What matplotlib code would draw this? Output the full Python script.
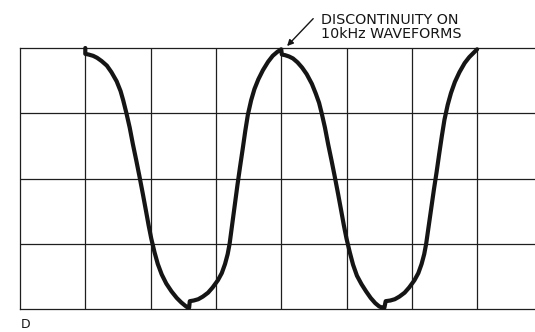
import matplotlib
matplotlib.use("Agg")
import matplotlib.pyplot as plt

# Trace read along the screen graticule (x: horizontal divisions, y: vertical divisions)
# First fall: peak at 1 div down to the first trough
fall1_x = [1.00, 1.00, 1.05, 1.12, 1.18, 1.25, 1.33, 1.40, 1.48, 1.54, 1.58, 1.63,
           1.68, 1.73, 1.78, 1.83, 1.88, 1.93, 1.97, 2.01, 2.06, 2.11, 2.17, 2.24,
           2.32, 2.40, 2.47, 2.53, 2.57, 2.59]
fall1_y = [4.00, 3.91, 3.90, 3.88, 3.85, 3.80, 3.73, 3.63, 3.49, 3.34, 3.20, 3.00,
           2.78, 2.52, 2.28, 2.03, 1.77, 1.50, 1.28, 1.08, 0.87, 0.69, 0.53, 0.39,
           0.27, 0.17, 0.10, 0.05, 0.02, 0.02]
# First rise: notch at the trough, up to the peak at 4 div
rise1_x = [2.60, 2.66, 2.73, 2.80, 2.88, 2.95, 3.03, 3.09, 3.14, 3.18, 3.21, 3.25,
           3.29, 3.33, 3.37, 3.41, 3.45, 3.49, 3.54, 3.59, 3.65, 3.72, 3.80, 3.87,
           3.94, 4.00]
rise1_y = [0.12, 0.13, 0.15, 0.19, 0.25, 0.33, 0.44, 0.55, 0.69, 0.84, 1.00, 1.30,
           1.60, 1.90, 2.18, 2.45, 2.73, 2.98, 3.20, 3.37, 3.52, 3.66, 3.79, 3.88,
           3.94, 3.98]
# Second fall: notch at the peak, down to the second trough
fall2_x = [4.01, 4.06, 4.12, 4.18, 4.25, 4.32, 4.39, 4.47, 4.53, 4.58, 4.62, 4.67,
           4.72, 4.77, 4.82, 4.87, 4.92, 4.96, 5.00, 5.05, 5.10, 5.16, 5.23, 5.30,
           5.37, 5.44, 5.50, 5.55, 5.58]
fall2_y = [3.90, 3.89, 3.87, 3.84, 3.78, 3.70, 3.60, 3.45, 3.30, 3.16, 3.00, 2.78,
           2.52, 2.28, 2.03, 1.77, 1.50, 1.28, 1.08, 0.87, 0.68, 0.51, 0.38, 0.27,
           0.17, 0.09, 0.04, 0.02, 0.02]
# Second rise: notch at the trough, up to the peak at 7 div
rise2_x = [5.60, 5.67, 5.74, 5.81, 5.89, 5.96, 6.04, 6.10, 6.15, 6.19, 6.22, 6.26,
           6.30, 6.34, 6.38, 6.42, 6.46, 6.50, 6.55, 6.60, 6.66, 6.73, 6.81, 6.88,
           6.95, 7.00]
rise2_y = [0.12, 0.13, 0.15, 0.19, 0.25, 0.33, 0.44, 0.55, 0.69, 0.84, 1.00, 1.28,
           1.56, 1.84, 2.10, 2.38, 2.65, 2.90, 3.13, 3.31, 3.48, 3.63, 3.77, 3.86,
           3.93, 3.98]

x_divs = list(range(0, 9))
y_divs = list(range(0, 5))
note_lines = ["DISCONTINUITY ON", "10kHz WAVEFORMS"]
panel_label = "D"

W, H = 535, 332
fig = plt.figure(figsize=(W / 100, H / 100), dpi=100)
fig.patch.set_facecolor("white")

ax = fig.add_axes([20 / W, 23 / H, (W - 20) / W, 261 / H])
ax.set_xlim(0, (W - 20) / 65.3)
ax.set_ylim(0, 4)

grid_col = "#1e1e1e"
for xv in x_divs[1:]:
    ax.axvline(xv, color=grid_col, lw=0.9, zorder=1)
for yv in y_divs[1:-1]:
    ax.axhline(yv, color=grid_col, lw=0.9, zorder=1)

for side in ("left", "top", "bottom"):
    ax.spines[side].set_color(grid_col)
    ax.spines[side].set_linewidth(0.9)
ax.spines["right"].set_visible(False)
ax.set_xticks([])
ax.set_yticks([])

trace_x = fall1_x + rise1_x + fall2_x + rise2_x
trace_y = fall1_y + rise1_y + fall2_y + rise2_y
ax.plot(trace_x, trace_y, color="#151515", lw=3.0, solid_joinstyle="round",
        solid_capstyle="round", zorder=3, clip_on=False)

# Pointer to the notch at the middle peak
ax.annotate("", xy=(4.09, 4.03), xytext=(4.49, 4.45), xycoords="data",
            textcoords="data", annotation_clip=False,
            arrowprops=dict(arrowstyle="-|>", color="#151515", lw=1.0,
                            mutation_scale=9, shrinkA=0, shrinkB=0))

fig.text(321 / W, 1 - 24 / H, note_lines[0], fontsize=10.3, color="#151515",
         ha="left", va="baseline", family="DejaVu Sans")
fig.text(321 / W, 1 - 38.5 / H, note_lines[1], fontsize=10.3, color="#151515",
         ha="left", va="baseline", family="DejaVu Sans")
fig.text(21 / W, 1 - 318 / H, panel_label, fontsize=9, color="#151515",
         ha="left", va="top", family="DejaVu Sans")

fig.savefig("out.png", dpi=100)
